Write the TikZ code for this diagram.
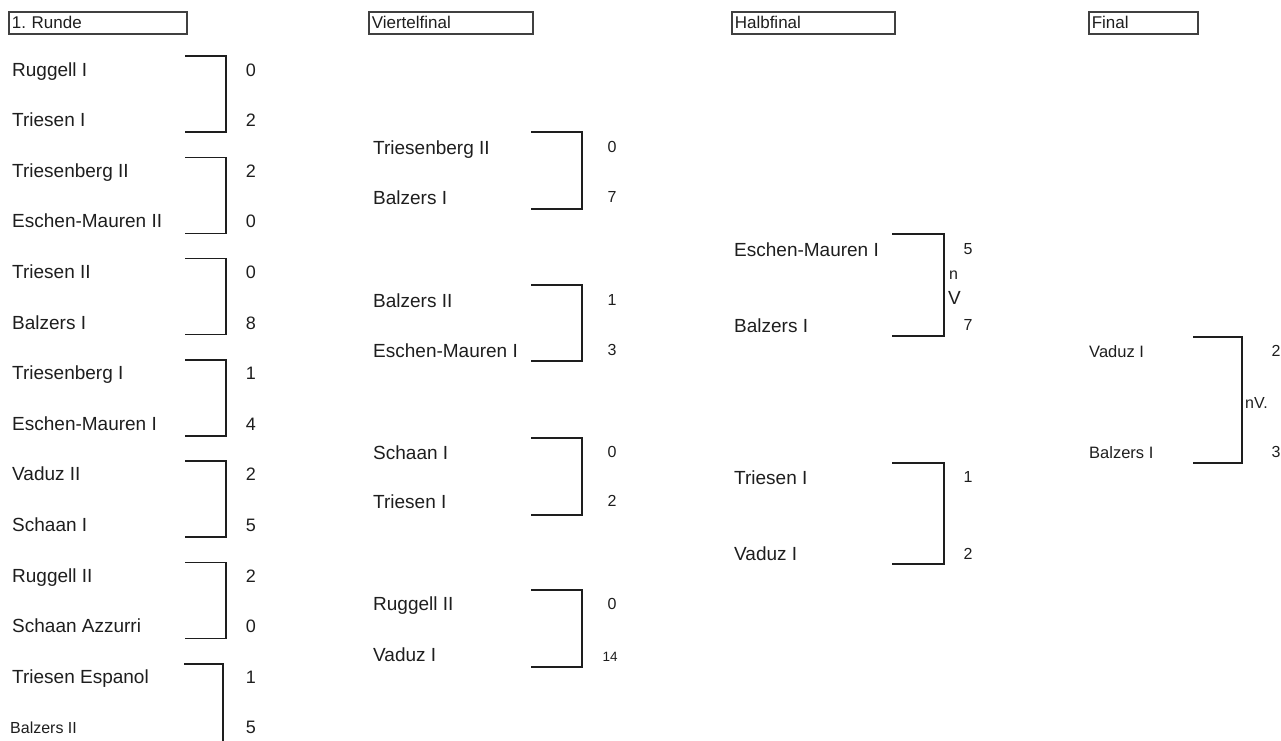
\documentclass[tikz,border=0pt]{standalone}
\usepackage{fontspec}
\setmainfont{Liberation Sans}
\definecolor{ink}{HTML}{1E1E1E}
\frenchspacing
\begin{document}
\begin{tikzpicture}[x=1pt,y=-1pt,
  every node/.style={text=ink},
  hdr/.style={draw=ink!85, line width=1.6pt, anchor=north west, minimum height=22pt,
              inner ysep=0pt, inner xsep=3pt, align=left, font=\fontsize{17}{19}\selectfont},
  team/.style={anchor=base west, inner sep=0pt, font=\fontsize{19}{22}\selectfont},
  teamf/.style={anchor=base west, inner sep=0pt, font=\fontsize{16.5}{19}\selectfont},
  score/.style={anchor=base, inner sep=0pt, font=\fontsize{18}{20}\selectfont},
  scores/.style={anchor=base, inner sep=0pt, font=\fontsize{16}{18}\selectfont},
  note/.style={inner sep=0pt, font=\fontsize{16}{18}\selectfont},
  brk/.style={draw=ink, line width=1.5pt}
]
\useasboundingbox (0,0) rectangle (1281,740);

% headers
\node[hdr, text width=172pt] (h1) at (8,11) {1.\ Runde};
\node[hdr, text width=158pt] (h2) at (368,11) {Viertelfinal};
\node[hdr, text width=157pt] (h3) at (731,11) {Halbfinal};
\node[hdr, text width=103pt] (h4) at (1088,11) {Final};

% ---------- Round 1 ----------
\node[team] (r1a) at (12,76) {Ruggell I};
\node[team] (r1b) at (12,126.6) {Triesen I};
\node[team] (r1c) at (12,177.2) {Triesenberg II};
\node[team] (r1d) at (12,227.8) {Eschen-Mauren II};
\node[team] (r1e) at (12,278.4) {Triesen II};
\node[team] (r1f) at (12,329) {Balzers I};
\node[team] (r1g) at (12,379.6) {Triesenberg I};
\node[team] (r1h) at (12,430.2) {Eschen-Mauren I};
\node[team] (r1i) at (12,480.8) {Vaduz II};
\node[team] (r1j) at (12,531.4) {Schaan I};
\node[team] (r1k) at (12,582) {Ruggell II};
\node[team] (r1l) at (12,632.6) {Schaan Azzurri};
\node[team] (r1m) at (12,683.2) {Triesen Espanol};
\node[team, font=\fontsize{16}{18}\selectfont] (r1n) at (10,733.5) {Balzers II};

\node[score] (s1a) at (251,76) {0};
\node[score] (s1b) at (251,126.6) {2};
\node[score] (s1c) at (251,177.2) {2};
\node[score] (s1d) at (251,227.8) {0};
\node[score] (s1e) at (251,278.4) {0};
\node[score] (s1f) at (251,329) {8};
\node[score] (s1g) at (251,379.6) {1};
\node[score] (s1h) at (251,430.2) {4};
\node[score] (s1i) at (251,480.8) {2};
\node[score] (s1j) at (251,531.4) {5};
\node[score] (s1k) at (251,582) {2};
\node[score] (s1l) at (251,632.6) {0};
\node[score] (s1m) at (251,683.2) {1};
\node[score] (s1n) at (251,733.8) {5};

% round 1 brackets
\foreach \i/\t/\b in {1/56/132, 2/157.3/233.3, 3/258.6/334.6, 4/359.9/435.9, 5/461.2/537.2, 6/562.5/638.5}{
  \coordinate (b1t\i) at (185,\t);
  \coordinate (b1u\i) at (226,\t);
  \coordinate (b1v\i) at (226,\b);
  \coordinate (b1w\i) at (185,\b);
  \draw[brk] (b1t\i) -- (b1u\i) -- (b1v\i) -- (b1w\i);
}
\coordinate (b1t7) at (184,663.8);
\coordinate (b1u7) at (223,663.8);
\coordinate (b1v7) at (223,745);
\draw[brk] (b1t7) -- (b1u7) -- (b1v7);

% ---------- Quarterfinal ----------
\node[team] (q1a) at (373,154) {Triesenberg II};
\node[team] (q1b) at (373,204) {Balzers I};
\node[team] (q2a) at (373,307) {Balzers II};
\node[team] (q2b) at (373,357) {Eschen-Mauren I};
\node[team] (q3a) at (373,459) {Schaan I};
\node[team] (q3b) at (373,508) {Triesen I};
\node[team] (q4a) at (373,610) {Ruggell II};
\node[team] (q4b) at (373,661) {Vaduz I};

\node[scores] (sq1a) at (612,152.8) {0};
\node[scores] (sq1b) at (612,202.8) {7};
\node[scores] (sq2a) at (612,305.8) {1};
\node[scores] (sq2b) at (612,355.8) {3};
\node[scores] (sq3a) at (612,457.8) {0};
\node[scores] (sq3b) at (612,506.8) {2};
\node[scores] (sq4a) at (612,609.8) {0};
\node[scores, font=\fontsize{13.5}{16}\selectfont] (sq4b) at (610,661.8) {14};

\foreach \i/\t/\b in {1/132/209, 2/285/361, 3/438/515, 4/590/667}{
  \coordinate (bqt\i) at (531,\t);
  \coordinate (bqu\i) at (582,\t);
  \coordinate (bqv\i) at (582,\b);
  \coordinate (bqw\i) at (531,\b);
  \draw[brk] (bqt\i) -- (bqu\i) -- (bqv\i) -- (bqw\i);
}

% ---------- Semifinal ----------
\node[team] (h1a) at (734,256) {Eschen-Mauren I};
\node[team] (h1b) at (734,332) {Balzers I};
\node[team] (h2a) at (734,484) {Triesen I};
\node[team] (h2b) at (734,560) {Vaduz I};

\node[scores] (sh1a) at (968,254.8) {5};
\node[scores] (sh1b) at (968,330.8) {7};
\node[scores] (sh2a) at (968,482.8) {1};
\node[scores] (sh2b) at (968,559.8) {2};

\foreach \i/\t/\b in {1/234/336, 2/463/564}{
  \coordinate (bht\i) at (892,\t);
  \coordinate (bhu\i) at (944,\t);
  \coordinate (bhv\i) at (944,\b);
  \coordinate (bhw\i) at (892,\b);
  \draw[brk] (bht\i) -- (bhu\i) -- (bhv\i) -- (bhw\i);
}
\node[note, anchor=west] (nn) at (949,275) {n};
\node[note, anchor=west, font=\fontsize{19}{21}\selectfont] (nv) at (948,298) {V};

% ---------- Final ----------
\node[teamf] (f1a) at (1089,357) {Vaduz I};
\node[teamf] (f1b) at (1089,458) {Balzers I};
\node[scores] (sf1a) at (1276,356.8) {2};
\node[scores] (sf1b) at (1276,457.8) {3};
\coordinate (bft) at (1193,337);
\coordinate (bfu) at (1242,337);
\coordinate (bfv) at (1242,463);
\coordinate (bfw) at (1193,463);
\draw[brk] (bft) -- (bfu) -- (bfv) -- (bfw);
\node[note, anchor=west] (fnv) at (1245,403) {nV.};
\end{tikzpicture}
\end{document}
